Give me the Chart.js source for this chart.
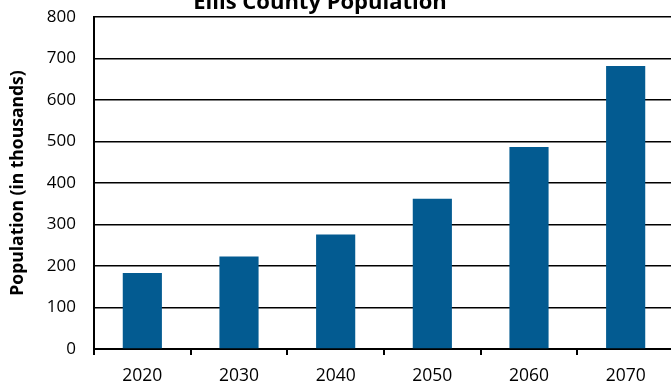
<!DOCTYPE html>
<html>
<head>
<meta charset="utf-8">
<script src="https://cdn.jsdelivr.net/npm/chart.js@4"></script>
<style>
  html, body { margin: 0; padding: 0; background: #fff; overflow: hidden; }
  #wrap { width: 674px; height: 385px; position: relative; }
</style>
</head>
<body>
<div id="wrap"><canvas id="c"></canvas></div>
<script>
// Projected population, thousands of residents
const years = ['2020', '2030', '2040', '2050', '2060', '2070'];
const population = [183, 223, 276, 362, 487, 682];
const yTicks = [0, 100, 200, 300, 400, 500, 600, 700, 800];
const chartTitle = 'Ellis County Population';
const yTitle = 'Population (in thousands)';

const FONT = '"Open Sans", "Liberation Sans", sans-serif';

// Title is drawn slightly left of centre, partly above the canvas edge
const titlePlugin = {
  id: 'topTitle',
  afterDraw(chart) {
    const ctx = chart.ctx;
    ctx.save();
    ctx.font = 'bold 22px ' + FONT;
    ctx.fillStyle = '#000';
    ctx.textAlign = 'center';
    ctx.textBaseline = 'alphabetic';
    ctx.fillText(chartTitle, 320, 9);
    ctx.restore();
  }
};

new Chart(document.getElementById('c'), {
  type: 'bar',
  data: {
    labels: years,
    datasets: [{
      data: population,
      backgroundColor: '#035B91',
      borderWidth: 0,
      categoryPercentage: 1,
      barPercentage: 0.405
    }]
  },
  plugins: [titlePlugin],
  options: {
    responsive: true,
    maintainAspectRatio: false,
    animation: false,
    layout: { padding: { top: 17, right: 0, bottom: 0, left: 0 } },
    plugins: {
      legend: { display: false },
      title: { display: false },
      tooltip: { enabled: false }
    },
    scales: {
      x: {
        offset: true,
        afterFit(scale) { scale.height = 36; },
        grid: {
          offset: true,
          drawOnChartArea: false,
          drawTicks: true,
          tickLength: 6,
          color: '#000',
          lineWidth: 2
        },
        border: { display: true, color: '#000', width: 2 },
        ticks: {
          color: '#000',
          font: { family: FONT, size: 17.5, lineHeight: 1.0 },
          padding: 12,
          maxRotation: 0
        }
      },
      y: {
        min: 0,
        max: 800,
        afterBuildTicks(scale) {
          scale.ticks = yTicks.map(v => ({ value: v }));
        },
        afterFit(scale) {
          scale.width = 94;
          scale.paddingTop = 0;
          scale.paddingBottom = 0;
        },
        grid: {
          drawTicks: false,
          color: '#000',
          lineWidth: 1.5
        },
        border: { display: true, color: '#000', width: 2 },
        ticks: {
          color: '#000',
          font: { family: FONT, size: 17 },
          padding: 18
        },
        title: {
          display: true,
          text: yTitle,
          color: '#000',
          font: { family: FONT, size: 17.5, weight: 'bold', lineHeight: 1.2 },
          padding: { top: 7.5, bottom: 0 }
        }
      }
    }
  }
});
</script>
</body>
</html>
